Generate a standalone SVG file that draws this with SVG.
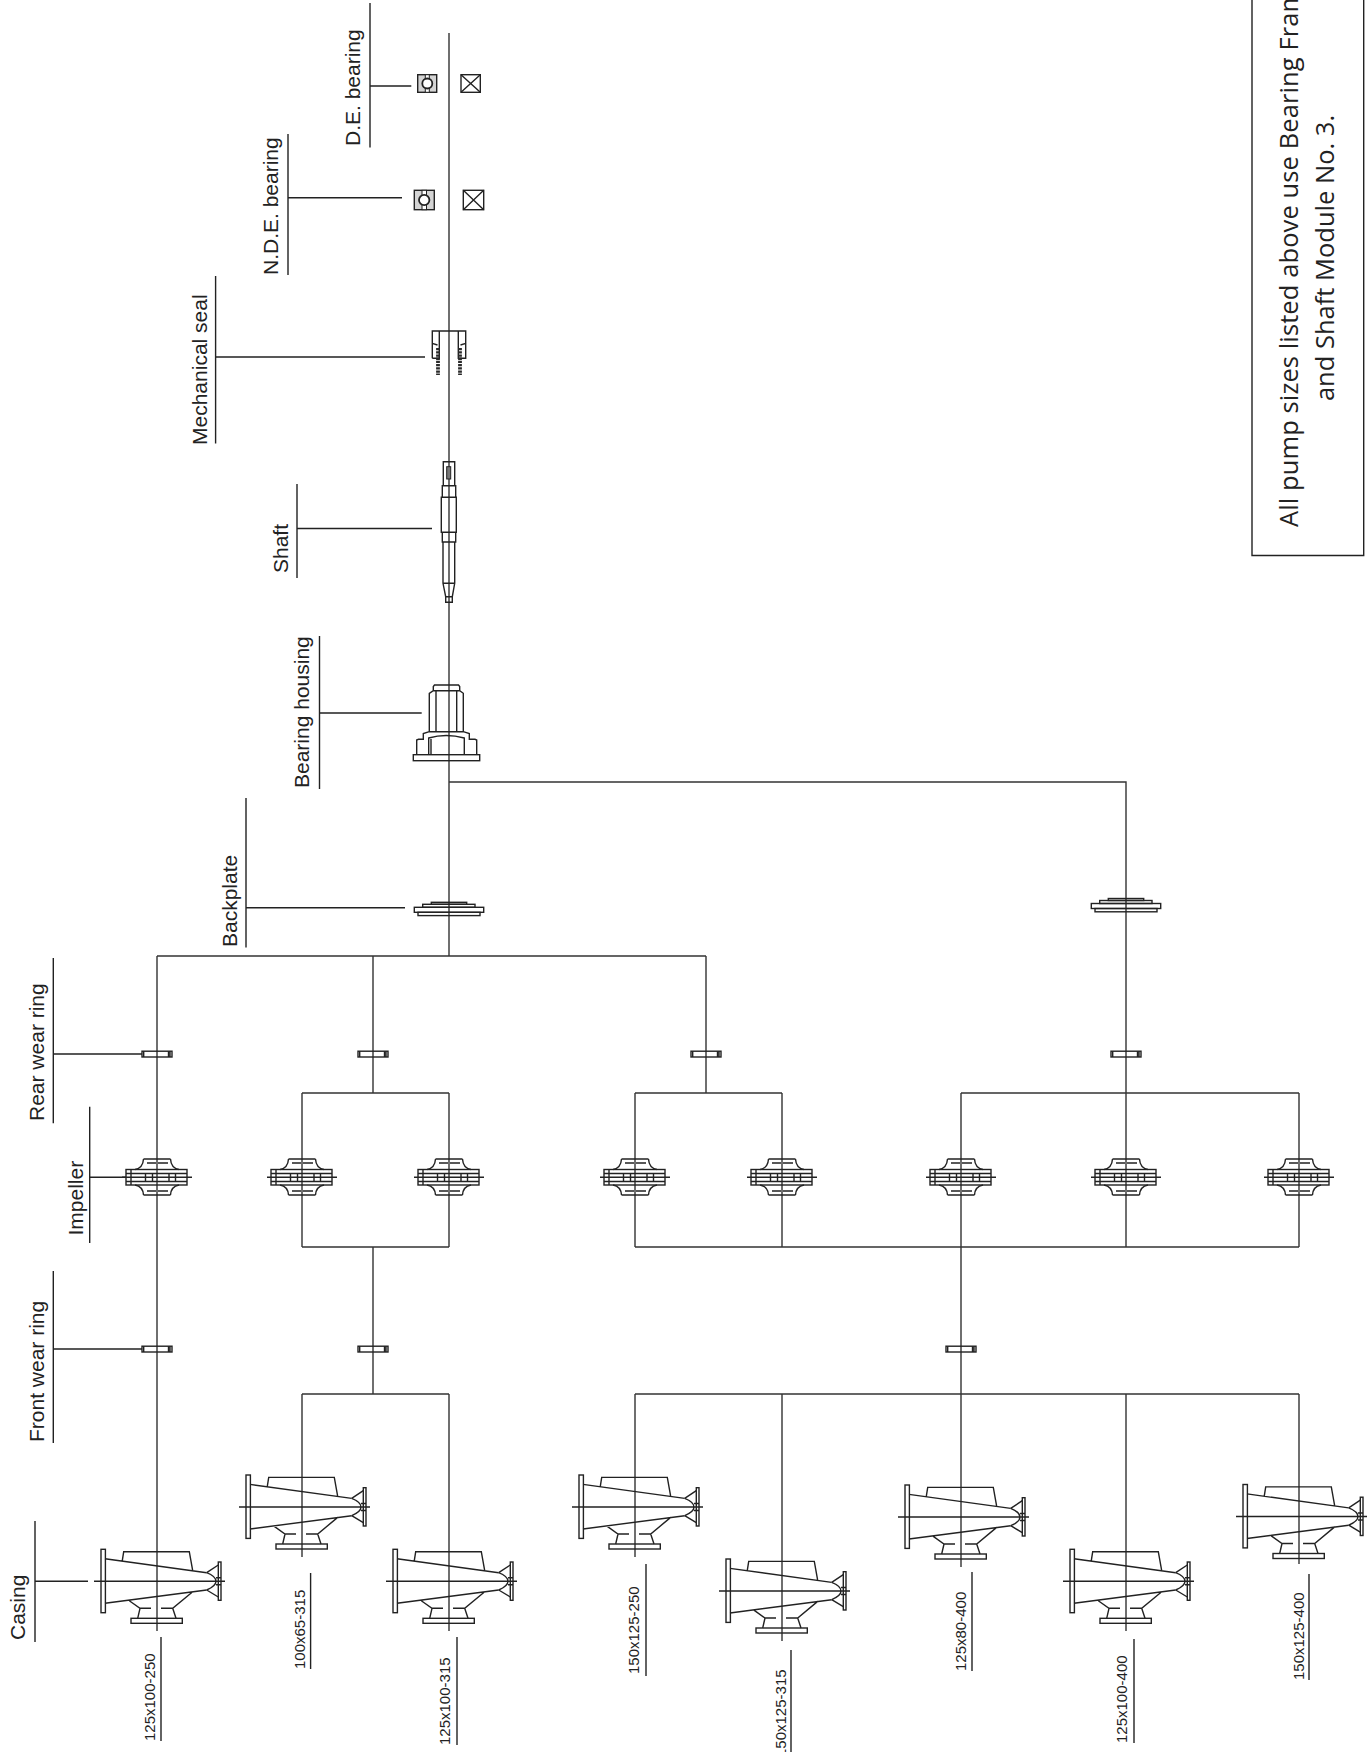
<svg xmlns="http://www.w3.org/2000/svg" xmlns:xlink="http://www.w3.org/1999/xlink" width="1372" height="1752" viewBox="0 0 1372 1752">
<style>
.l{fill:none;stroke:#222;stroke-width:1.4}
.m{fill:none;stroke:#333;stroke-width:1.4}
.t{font-family:"Liberation Sans",Arial,sans-serif;font-size:21px;fill:#222}
.s{font-family:"Liberation Sans",Arial,sans-serif;font-size:15px;fill:#222}
.n{font-family:"Open Sans","Noto Sans",sans-serif;font-size:25.5px;fill:#222}
</style>
<defs>
<g id="casing" class="l">
<rect x="-56" y="-32" width="4.400" height="63.400"/>
<path d="M-52-22.600L49.700-8.600M-52 22L49.700 8.700M-34.700-20.600L-33.300-29.600H32.300L35.700-10.600M-27.700 19.400L-17 27H-6M4 27H15.700L35.700 10.400M-17 27L-19.300 37M15.700 27L19 37"/>
<rect x="-26" y="37" width="51.300" height="5"/>
<path d="M49.700-8.600C56-6 59-3 59 0S56 6 49.700 8.700M49.700-8.600L61.300-16.300M49.700 8.700L61.300 15.700M59-3.500H64M59 3.500H64M-63 0H68"/>
<rect x="61.300" y="-19.300" width="2.700" height="38.300"/>
</g>
<g id="impeller" class="l">
<rect x="-31" y="-7.500" width="61" height="15.500"/>
<path d="M-31-3.500H30M-31 4.500H30M-26-7.500V8M-11.500-3.500V4.500M-4.500-3.500V4.500M12-3.500V4.500M18.500-3.500V4.500M-35 .3H35"/>
<path d="M-13.500-18H13.500M-10-14H-1M1-14H11M-13.500-18Q-14-9-22-7.500M13.500-18Q14-9 22-7.500M-13.500 18H13.500M-10 14H-1M1 14H11M-13.500 18Q-14 9.500-22 8M13.500 18Q14 9.500 22 8"/>
</g>
<g id="ring">
<rect class="l" x="-15" y="-2.800" width="30" height="5.800"/>
<path d="M-13.300-2.800V3M11.500-2.800V3M13-2.800V3" class="l"/>
</g>
<g id="backplate" class="l">
<rect x="-17.700" y="-5.500" width="35.400" height="2"/>
<rect x="-26.300" y="-3.500" width="52.300" height="3"/>
<rect x="-34.700" y="-.5" width="69.400" height="5"/>
<rect x="-31" y="4.500" width="62" height="3.300"/>
</g>
</defs>

<g id="connectors" class="m">
<path d="M449 33V956M449 782H1126V1247M157 956H706M157 956V1631M373 956V1093M302 1093H449M302 1093V1247M449 1093V1247M302 1247H449M373 1247V1394M302 1394H449M302 1394V1557M449 1394V1631M706 956V1093M635 1093H782M635 1093V1247M782 1093V1247M635 1247H1299M961 1093H1299M961 1093V1394M1299 1093V1247M635 1394H1299M635 1394V1557M782 1394V1641M961 1394V1567M1126 1394V1631M1299 1394V1564"/>
</g>

<g id="de-bearing">
<rect x="417.700" y="74.700" width="19" height="17.600" fill="#d4d4d4" stroke="#222" stroke-width="1.400"/>
<rect x="425.300" y="74.700" width="4" height="17.600" fill="#fff" stroke="#222"/>
<circle cx="427.300" cy="83.500" r="5" fill="#fff" stroke="#222" stroke-width="1.800"/>
<rect class="l" x="461" y="74.700" width="19.300" height="17.600"/>
<path class="l" d="M461 74.700L480.300 92.300M480.300 74.700L461 92.300"/>
<path class="l" d="M370 3V147.500M370 86H411.300"/>
<text class="t" transform="translate(360 146) rotate(-90)">D.E. bearing</text>
</g>
<g id="nde-bearing">
<rect x="414.300" y="190.300" width="20" height="19.400" fill="#d4d4d4" stroke="#222" stroke-width="1.400"/>
<rect x="422" y="190.300" width="4.500" height="19.400" fill="#fff" stroke="#222"/>
<circle cx="424.200" cy="200" r="5.200" fill="#fff" stroke="#222" stroke-width="1.800"/>
<rect class="l" x="463.300" y="190.300" width="20.400" height="19.400"/>
<path class="l" d="M463.300 190.300L483.700 209.700M483.700 190.300L463.300 209.700"/>
<path class="l" d="M288 134V275M288 197.700H402"/>
<text class="t" transform="translate(278 275) rotate(-90)">N.D.E. bearing</text>
</g>
<g id="mechanical-seal">
<path class="l" d="M432.300 358.300V331H465.700V358.300H458.300V331M439.300 331V358.300H432.300M432.300 343.300L437.500 345M465.700 343.300L460.500 345"/>
<path d="M438 348V375M460 348V375" fill="none" stroke="#2a2a2a" stroke-width="3.800" stroke-dasharray="2.300 .9"/>
<path class="l" d="M215.600 276V443.600M215.600 357H425"/>
<text class="t" transform="translate(207 445) rotate(-90)">Mechanical seal</text>
</g>
<g id="shaft">
<path class="l" d="M443.300 485.700V461.700H454.700V485.700M442.300 485.700H455.700V497.300H442.300ZM441.300 497.300H456.300V532.300H441.300ZM442.300 532.300H455.700V542H442.300ZM443 542V583.300L445.700 596.700H452.300L454.700 583.300V542M443 583.300H454.700M445.700 596.700V602.300H452.300V596.700"/>
<rect x="446.700" y="466.700" width="4" height="12.300" fill="#777" stroke="#222"/>
<path class="l" d="M297 484V578M297 528.500H432"/>
<text class="t" transform="translate(288 573) rotate(-90)">Shaft</text>
</g>
<g id="bearing-housing">
<rect class="l" x="413.300" y="754.700" width="66.400" height="6"/>
<path class="l" d="M416.700 754.700V740L418.500 739.300H423.300V733.500L429.300 731.700H463.300L469.300 733.500V739.300H475L476.700 740V754.700M429.300 731.700V693.300L433.300 690.700H459.700L463.300 693.300V731.700M436 690.700V731.700M456.700 690.700V731.700M433.300 690.700V686.500L434.500 685H458.500L459.700 686.500V690.700M428.700 754.700V738Q446 733 464.300 738V754.700M431 739V754.700"/>
<path class="l" d="M319.500 636V789M319.500 713H421.700"/>
<text class="t" transform="translate(309 788) rotate(-90)">Bearing housing</text>
</g>
<g id="backplate-1">
<use xlink:href="#backplate" href="#backplate" x="449" y="907.800"/>
<path class="l" d="M246 798V947.500M246 907.800H405"/>
<text class="t" transform="translate(237 947) rotate(-90)">Backplate</text>
</g>
<g id="backplate-2"><use xlink:href="#backplate" href="#backplate" x="1126" y="904"/></g>

<g id="rear-wear-ring">
<use xlink:href="#ring" href="#ring" x="157" y="1054"/>
<use xlink:href="#ring" href="#ring" x="373" y="1054"/>
<use xlink:href="#ring" href="#ring" x="706" y="1054"/>
<use xlink:href="#ring" href="#ring" x="1126" y="1054"/>
<path class="l" d="M53.300 958V1123.300M53.300 1054H142"/>
<text class="t" transform="translate(43.500 1121) rotate(-90)">Rear wear ring</text>
</g>
<g id="impellers">
<use xlink:href="#impeller" href="#impeller" x="157" y="1177"/>
<use xlink:href="#impeller" href="#impeller" x="302" y="1177"/>
<use xlink:href="#impeller" href="#impeller" x="449" y="1177"/>
<use xlink:href="#impeller" href="#impeller" x="635" y="1177"/>
<use xlink:href="#impeller" href="#impeller" x="782" y="1177"/>
<use xlink:href="#impeller" href="#impeller" x="961" y="1177"/>
<use xlink:href="#impeller" href="#impeller" x="1126" y="1177"/>
<use xlink:href="#impeller" href="#impeller" x="1299" y="1177"/>
<path class="l" d="M89.700 1106.700V1243M89.700 1177.300H126"/>
<text class="t" transform="translate(82.500 1235.500) rotate(-90)">Impeller</text>
</g>
<g id="front-wear-ring">
<use xlink:href="#ring" href="#ring" x="157" y="1349"/>
<use xlink:href="#ring" href="#ring" x="373" y="1349"/>
<use xlink:href="#ring" href="#ring" x="961" y="1349"/>
<path class="l" d="M53.300 1271V1443M53.300 1349H142"/>
<text class="t" transform="translate(43.500 1442) rotate(-90)">Front wear ring</text>
</g>

<g id="casing-1">
<use xlink:href="#casing" href="#casing" x="157" y="1581.300"/>
<path class="l" d="M35 1521V1642M35 1581.300H88"/>
<text class="t" transform="translate(25 1640) rotate(-90)">Casing</text>
<path class="l" d="M161 1637V1741"/>
<text class="s" transform="translate(154.500 1741) rotate(-90)">125x100-250</text>
</g>
<g id="casing-2">
<use xlink:href="#casing" href="#casing" x="302" y="1507"/>
<path class="l" d="M310.600 1573V1669"/>
<text class="s" transform="translate(304.500 1669) rotate(-90)">100x65-315</text>
</g>
<g id="casing-3">
<use xlink:href="#casing" href="#casing" x="449" y="1581.300"/>
<path class="l" d="M457 1637V1745"/>
<text class="s" transform="translate(450 1745) rotate(-90)">125x100-315</text>
</g>
<g id="casing-4">
<use xlink:href="#casing" href="#casing" x="635" y="1507"/>
<path class="l" d="M646 1564V1676"/>
<text class="s" transform="translate(639 1674) rotate(-90)">150x125-250</text>
</g>
<g id="casing-5">
<use xlink:href="#casing" href="#casing" x="782" y="1591"/>
<path class="l" d="M791 1650V1752"/>
<text class="s" transform="translate(785.500 1757) rotate(-90)">150x125-315</text>
</g>
<g id="casing-6">
<use xlink:href="#casing" href="#casing" x="961" y="1517"/>
<path class="l" d="M972 1572V1671"/>
<text class="s" transform="translate(966 1671) rotate(-90)">125x80-400</text>
</g>
<g id="casing-7">
<use xlink:href="#casing" href="#casing" x="1126" y="1581.300"/>
<path class="l" d="M1134 1639V1743"/>
<text class="s" transform="translate(1127 1743) rotate(-90)">125x100-400</text>
</g>
<g id="casing-8">
<use xlink:href="#casing" href="#casing" x="1299" y="1516.500"/>
<path class="l" d="M1309 1574V1680"/>
<text class="s" transform="translate(1304 1680) rotate(-90)">150x125-400</text>
</g>

<g id="note">
<path class="l" d="M1252 0V555.500H1363.700V0"/>
<text class="n" letter-spacing=".1" transform="translate(1298 527) rotate(-90)">All pump sizes listed above use Bearing Frame</text>
<text class="n" text-anchor="middle" transform="translate(1334 258) rotate(-90)">and Shaft Module No. 3.</text>
</g>
</svg>
